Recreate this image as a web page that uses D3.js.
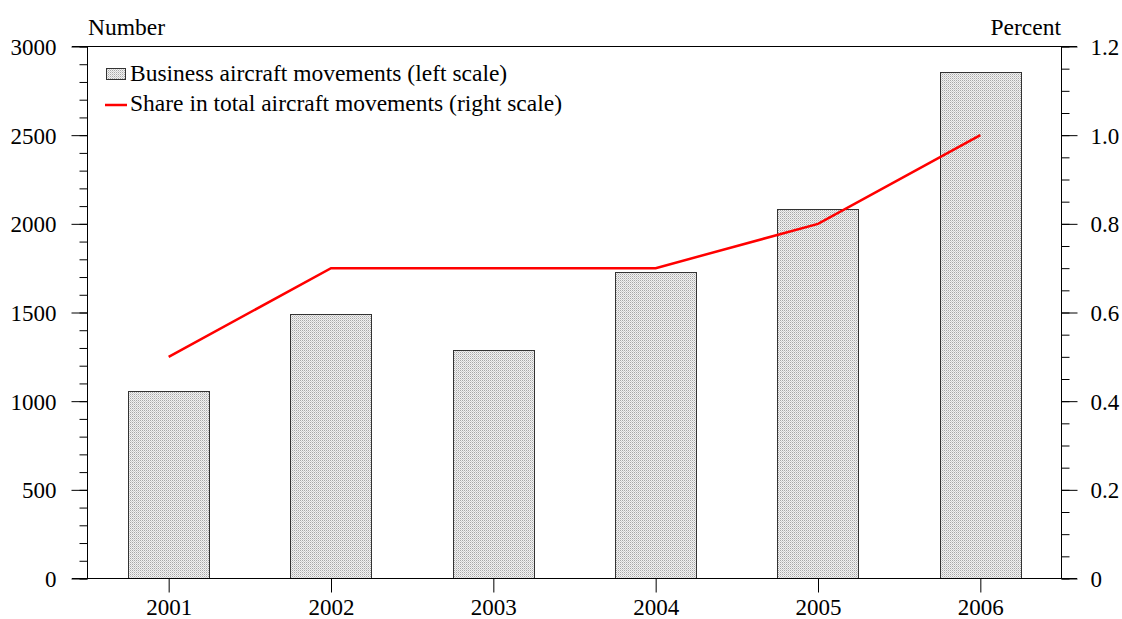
<!DOCTYPE html>
<html><head><meta charset="utf-8">
<script src="https://cdn.jsdelivr.net/npm/d3@7"></script>
<style>body{margin:0;background:#fff}svg{display:block}text{font-family:"Liberation Serif","Times New Roman",serif;fill:#000}</style>
</head><body><svg id="c" width="1122" height="619"></svg>
<script>
const years = ["2001","2002","2003","2004","2005","2006"];
const movements = [1060, 1494, 1286, 1731, 2081, 2854];
const share = [0.5, 0.7, 0.7, 0.7, 0.8, 1.0];
const leftTicks = [0, 500, 1000, 1500, 2000, 2500, 3000];
const rightTicks = [0, 0.2, 0.4, 0.6, 0.8, 1.0, 1.2];
const legendLabels = ["Business aircraft movements (left scale)", "Share in total aircraft movements (right scale)"];

const svg = d3.select("#c");
const L = 87.5, R = 1061.5, T = 46.5, B = 578.5;
const FS = "23px", FS2 = "23.5px";

const defs = svg.append("defs");
const pat = defs.append("pattern").attr("id","dots").attr("patternUnits","userSpaceOnUse").attr("width",2).attr("height",2);
pat.append("rect").attr("width",2).attr("height",2).attr("fill","#f2f2f2");
pat.append("rect").attr("width",1).attr("height",1).attr("fill","#a8a8a8");
pat.append("rect").attr("x",1).attr("y",1).attr("width",1).attr("height",1).attr("fill","#cfcfcf");

const x = d3.scaleBand().domain(years).range([L, R]).paddingInner(0.5).paddingOuter(0.25);
const xc = d3.scalePoint().domain(years).range([L, R]).padding(0.5);
const yL = d3.scaleLinear().domain([0, 3000]).range([B, T]);
const yR = d3.scaleLinear().domain([0, 1.2]).range([B, T]);

// bars
svg.append("g").selectAll("rect").data(years).join("rect")
  .attr("x", d => Math.round(x(d)) + 0.5)
  .attr("y", (d,i) => Math.round(yL(movements[i])) + 0.5)
  .attr("width", Math.round(x.bandwidth()))
  .attr("height", (d,i) => B - Math.round(yL(movements[i])) - 0.5)
  .attr("fill", "url(#dots)").attr("stroke", "#333").attr("stroke-width", 1);

// line
svg.append("path").datum(share)
  .attr("d", d3.line().x((d,i) => xc(years[i])).y(d => yR(d)))
  .attr("fill","none").attr("stroke","#ff0000").attr("stroke-width",2.5);

// frame top/bottom
svg.append("line").attr("x1",72).attr("x2",1077).attr("y1",T).attr("y2",T).attr("stroke","#000");
svg.append("line").attr("x1",72).attr("x2",1077).attr("y1",B).attr("y2",B).attr("stroke","#000");

// left axis
const la = svg.append("g").attr("transform",`translate(${L},0)`)
  .call(d3.axisLeft(yL).tickValues(d3.range(0,3001,100)).tickSize(8).tickFormat(""));
la.select(".domain").remove();
la.selectAll("line").attr("stroke","#000");
svg.append("line").attr("x1",L).attr("x2",L).attr("y1",T).attr("y2",B).attr("stroke","#000");
const la2 = svg.append("g").attr("transform",`translate(${L},0)`)
  .call(d3.axisLeft(yL).tickValues(leftTicks).tickSize(16).tickPadding(15).tickFormat(d3.format("d")));
la2.select(".domain").remove();
la2.selectAll("line").attr("stroke","#000");
la2.selectAll("text").style("font-size",FS).attr("dy","0.35em");

// right axis
const ra = svg.append("g").attr("transform",`translate(${R},0)`)
  .call(d3.axisRight(yR).tickValues(d3.range(0,25).map(i=>i*0.05)).tickSize(8).tickFormat(""));
ra.select(".domain").remove();
ra.selectAll("line").attr("stroke","#000");
svg.append("line").attr("x1",R).attr("x2",R).attr("y1",T).attr("y2",B).attr("stroke","#000");
const ra2 = svg.append("g").attr("transform",`translate(${R},0)`)
  .call(d3.axisRight(yR).tickValues(rightTicks).tickSize(16).tickPadding(13).tickFormat(d => d===0 ? "0" : d3.format(".1f")(d)));
ra2.select(".domain").remove();
ra2.selectAll("line").attr("stroke","#000");
ra2.selectAll("text").style("font-size",FS).attr("dy","0.35em");

// bottom axis
const ba = svg.append("g").attr("transform",`translate(0,${B})`)
  .call(d3.axisBottom(xc).tickSize(14).tickPadding(6));
ba.select(".domain").remove();
ba.selectAll("line").attr("stroke","#000");
ba.selectAll("text").style("font-size",FS);

// axis titles
svg.append("text").attr("x",88).attr("y",35).style("font-size",FS2).text("Number");
svg.append("text").attr("x",1061).attr("y",35).attr("text-anchor","end").style("font-size",FS2).text("Percent");

// legend
const lg = svg.append("g");
lg.append("rect").attr("x",106.5).attr("y",68.5).attr("width",19).attr("height",11).attr("fill","url(#dots)").attr("stroke","#333");
lg.append("text").attr("x",130).attr("y",81).style("font-size",FS2).text(legendLabels[0]);
lg.append("line").attr("x1",105).attr("x2",127).attr("y1",105).attr("y2",105).attr("stroke","#ff0000").attr("stroke-width",2.5);
lg.append("text").attr("x",130).attr("y",111).style("font-size",FS2).text(legendLabels[1]);
</script></body></html>
